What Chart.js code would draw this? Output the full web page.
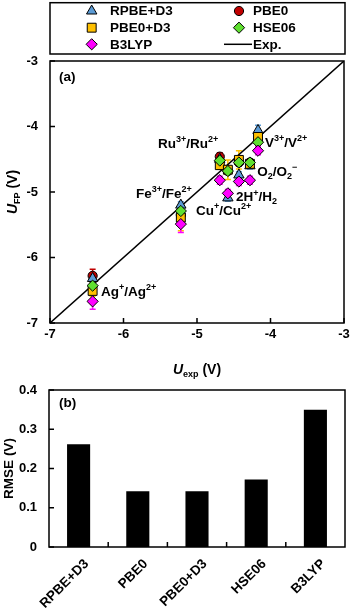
<!DOCTYPE html>
<html><head><meta charset="utf-8">
<script src="https://cdn.jsdelivr.net/npm/chart.js@4/dist/chart.umd.min.js"></script>
<style>
html,body{margin:0;padding:0;background:#fff;width:352px;height:610px;overflow:hidden;}
#c1{position:absolute;left:0;top:0;}
#c2{position:absolute;left:0;top:380px;}
</style></head><body>
<canvas id="c1" width="352" height="380"></canvas>
<canvas id="c2" width="352" height="230"></canvas>
<script>
// ---------------- data ----------------
const couples = ['Ag^{+}/Ag^{2+}','Fe^{3+}/Fe^{2+}','Ru^{3+}/Ru^{2+}','Cu^{+}/Cu^{2+}','2H^{+}/H_{2}','O_{2}/O_{2}^{\u2212}','V^{3+}/V^{2+}'];
const uExp     = [-6.42, -5.22, -4.69, -4.58, -4.43, -4.28, -4.17];
const methods  = ['RPBE+D3','PBE0','PBE0+D3','HSE06','B3LYP'];
const uRPBED3  = [-6.32, -5.20, -4.50, -5.09, -4.74, -4.60, -4.06];
const uPBE0    = [-6.28, -5.35, -4.46, -4.68, -4.55, -4.55, -4.19];
const uPBE0D3  = [-6.51, -5.39, -4.59, -4.66, -4.51, -4.57, -4.16];
const uHSE06   = [-6.43, -5.29, -4.52, -4.68, -4.55, -4.55, -4.24];
const uB3LYP   = [-6.67, -5.49, -4.82, -5.02, -4.84, -4.82, -4.37];
const eRPBED3  = [0.05, 0.05, 0.05, 0.05, 0.05, 0.05, 0.08];
const ePBE0    = [0.10, 0.05, 0.06, 0.05, 0.05, 0.05, 0.05];
const ePBE0D3  = [0.08, 0.20, 0.06, 0.15, 0.14, 0.05, 0.08];
const eHSE06   = [0.05, 0.05, 0.05, 0.05, 0.05, 0.05, 0.05];
const eB3LYP   = [0.12, 0.13, 0.06, 0.06, 0.06, 0.06, 0.06];
const expLineX = [-7, -3];
const expLineY = [-7, -3];
const fpTicks  = [-7, -6, -5, -4, -3];
const rmse     = [0.262, 0.142, 0.142, 0.172, 0.350];
const rmseTicks= [0, 0.1, 0.2, 0.3, 0.4];

// ---------------- styles / layout ----------------
const FONT = '"Liberation Sans", Arial, sans-serif';
const seriesVals = [uRPBED3, uPBE0, uPBE0D3, uHSE06, uB3LYP];
const seriesErr  = [eRPBED3, ePBE0, ePBE0D3, eHSE06, eB3LYP];
const styles = [
  {color:'#5b9bd5', pt:'triangle', r:6,   order:3.5},
  {color:'#c00000', pt:'circle',   r:4.6, order:4},
  {color:'#ffc000', pt:'rect',     r:6.3, order:3},
  {color:'#5fe030', pt:'rectRot',  r:5.6, order:2},
  {color:'#ff00ff', pt:'rectRot',  r:5.6, order:1}
];
// annotation anchors (left edge, vertical middle) in data units
const labelPos = [[-6.306,-6.531],[-5.830,-5.031],[-5.531,-4.267],[-5.014,-5.290],[-4.469,-5.087],[-4.180,-4.699],[-4.075,-4.256]];

function parseRich(s){
  const out=[]; const re=/(\^|_|~)\{([^}]*)\}|([^^_~]+)/g; let m;
  while((m=re.exec(s))){
    if(m[3]) out.push({t:m[3],k:'n'});
    else out.push({t:m[2],k:m[1]==='^'?'sup':(m[1]==='_'?'sub':'it')});
  }
  return out;
}
function richFont(k,size){
  if(k==='sup'||k==='sub') return 'bold '+Math.round(size*0.66)+'px '+FONT;
  if(k==='it') return 'italic bold '+size+'px '+FONT;
  return 'bold '+size+'px '+FONT;
}
function richWidth(ctx,parts,size){
  let w=0; parts.forEach(p=>{ctx.font=richFont(p.k,size); w+=ctx.measureText(p.t).width;}); return w;
}
function drawRich(ctx,s,x,y,size,align){
  const parts=parseRich(s);
  let cx=x; if(align==='center') cx = x - richWidth(ctx,parts,size)/2;
  ctx.textBaseline='middle'; ctx.textAlign='left'; ctx.fillStyle='#000';
  parts.forEach(p=>{
    ctx.font=richFont(p.k,size);
    let dy=0; if(p.k==='sup') dy=-size*0.33; if(p.k==='sub') dy=size*0.3;
    ctx.fillText(p.t,cx,y+dy);
    cx+=ctx.measureText(p.t).width;
  });
}
function drawMarker(ctx,st,x,y){
  ctx.save();
  ctx.fillStyle=st.color; ctx.strokeStyle='#000'; ctx.lineWidth=1;
  if(Chart.helpers && Chart.helpers.drawPoint){
    Chart.helpers.drawPoint(ctx,{pointStyle:st.pt,radius:st.r,rotation:0,borderWidth:1},x,y);
  }
  ctx.restore();
}

const tickFont = {family:FONT, size:13, weight:'bold'};

// ---------------- chart (a) ----------------
const datasets = methods.map((m,i)=>({
  type:'scatter', label:m,
  data: uExp.map((x,j)=>({x:x, y:seriesVals[i][j]})),
  pointStyle: styles[i].pt, pointRadius: styles[i].r,
  backgroundColor: styles[i].color, borderColor:'#000', borderWidth:1,
  order: styles[i].order
}));
datasets.push({type:'line', label:'Exp.', data: expLineX.map((x,j)=>({x:x,y:expLineY[j]})),
  borderColor:'#000', borderWidth:1.5, pointRadius:0, order:10});

const pluginA = {
  id:'pa',
  beforeDatasetsDraw(chart){
    const ctx=chart.ctx, xs=chart.scales.x, ys=chart.scales.y;
    ctx.save(); ctx.lineWidth=1.5;
    seriesVals.forEach((vals,i)=>{
      ctx.strokeStyle=styles[i].color;
      vals.forEach((v,j)=>{
        const e=seriesErr[i][j]; const px=xs.getPixelForValue(uExp[j]);
        const y1=ys.getPixelForValue(v+e), y2=ys.getPixelForValue(v-e);
        ctx.beginPath();
        ctx.moveTo(px,y1); ctx.lineTo(px,y2);
        ctx.moveTo(px-3,y1); ctx.lineTo(px+3,y1);
        ctx.moveTo(px-3,y2); ctx.lineTo(px+3,y2);
        ctx.stroke();
      });
    });
    ctx.restore();
  },
  afterDraw(chart){
    const ctx=chart.ctx, a=chart.chartArea, xs=chart.scales.x, ys=chart.scales.y;
    ctx.save();
    // frame
    ctx.strokeStyle='#000'; ctx.lineWidth=1.5;
    ctx.strokeRect(a.left,a.top,a.right-a.left,a.bottom-a.top);
    // inward ticks
    ctx.beginPath();
    fpTicks.forEach(v=>{
      const px=xs.getPixelForValue(v); ctx.moveTo(px,a.bottom); ctx.lineTo(px,a.bottom-5);
      const py=ys.getPixelForValue(v); ctx.moveTo(a.left,py); ctx.lineTo(a.left+5,py);
    });
    ctx.stroke();
    // legend
    ctx.lineWidth=1.5;
    ctx.strokeRect(50,2.7,295,51.3);
    const rows=[11,27.7,44.3];
    const items=[[0,0,0],[1,1,0],[2,0,1],[3,1,1],[4,0,2]];
    items.forEach(([si,col,row])=>{
      const mx= col===0?91.7:239, tx= col===0?110:253;
      drawMarker(ctx,styles[si],mx,rows[row]);
      drawRich(ctx,methods[si],tx,rows[row]+0.5,13.5,'left');
    });
    ctx.strokeStyle='#000'; ctx.lineWidth=1.5;
    ctx.beginPath(); ctx.moveTo(224,rows[2]); ctx.lineTo(252,rows[2]); ctx.stroke();
    drawRich(ctx,'Exp.',253,rows[2]+0.5,13.5,'left');
    // panel label
    drawRich(ctx,'(a)',59,77,13.5,'left');
    // annotations
    couples.forEach((c,j)=>{
      drawRich(ctx,c,xs.getPixelForValue(labelPos[j][0]),ys.getPixelForValue(labelPos[j][1]),13.5,'left');
    });
    // axis titles
    drawRich(ctx,'~{U}_{exp} (V)',(a.left+a.right)/2,370,14,'center');
    ctx.save(); ctx.translate(13,(a.top+a.bottom)/2); ctx.rotate(-Math.PI/2);
    drawRich(ctx,'~{U}_{FP} (V)',0,0,14,'center');
    ctx.restore();
    ctx.restore();
  }
};

new Chart(document.getElementById('c1'),{
  type:'scatter',
  data:{datasets:datasets},
  options:{
    responsive:false, animation:false, events:[],
    layout:{padding:{left:0,right:8,top:61,bottom:0}},
    plugins:{legend:{display:false},tooltip:{enabled:false}},
    scales:{
      x:{type:'linear',min:-7,max:-3,
        afterBuildTicks(s){ s.ticks=fpTicks.map(v=>({value:v})); },
        ticks:{font:tickFont,color:'#000',padding:4,autoSkip:false,maxRotation:0,callback:v=>String(v)},
        grid:{display:false,drawTicks:false}, border:{display:false},
        afterFit(s){ s.height=57; s.paddingLeft=0; s.paddingRight=0; }},
      y:{type:'linear',min:-7,max:-3,
        afterBuildTicks(s){ s.ticks=fpTicks.map(v=>({value:v})); },
        ticks:{font:tickFont,color:'#000',padding:12,autoSkip:false,callback:v=>String(v)},
        grid:{display:false,drawTicks:false}, border:{display:false},
        afterFit(s){ s.width=50; s.paddingTop=0; s.paddingBottom=0; }}
    }
  },
  plugins:[pluginA]
});

// ---------------- chart (b) ----------------
const pluginB = {
  id:'pb',
  afterDraw(chart){
    const ctx=chart.ctx, a=chart.chartArea, ys=chart.scales.y;
    ctx.save();
    ctx.strokeStyle='#000'; ctx.lineWidth=1.5;
    ctx.strokeRect(a.left,a.top,a.right-a.left,a.bottom-a.top);
    ctx.beginPath();
    rmseTicks.forEach(v=>{ const py=ys.getPixelForValue(v); ctx.moveTo(a.left,py); ctx.lineTo(a.left+5,py); });
    const n=methods.length, w=(a.right-a.left)/n;
    for(let i=1;i<n;i++){ const px=a.left+i*w; ctx.moveTo(px,a.bottom); ctx.lineTo(px,a.bottom-5); }
    ctx.stroke();
    drawRich(ctx,'(b)',59,23,13.5,'left');
    ctx.save(); ctx.translate(9,(a.top+a.bottom)/2); ctx.rotate(-Math.PI/2);
    drawRich(ctx,'RMSE (V)',0,0,13.5,'center');
    ctx.restore();
    ctx.restore();
  }
};

new Chart(document.getElementById('c2'),{
  type:'bar',
  data:{labels:methods, datasets:[{data:rmse, backgroundColor:'#000', borderWidth:0, barPercentage:0.39, categoryPercentage:1}]},
  options:{
    responsive:false, animation:false, events:[],
    layout:{padding:{left:0,right:7,top:10,bottom:0}},
    plugins:{legend:{display:false},tooltip:{enabled:false}},
    scales:{
      x:{grid:{display:false,drawTicks:false}, border:{display:false},
        ticks:{font:{family:FONT,size:13.5,weight:'bold'},color:'#000',minRotation:45,maxRotation:45,padding:9,autoSkip:false,labelOffset:8},
        afterFit(s){ s.height=63; s.paddingLeft=0; s.paddingRight=0; }},
      y:{min:0,max:0.4,
        afterBuildTicks(s){ s.ticks=rmseTicks.map(v=>({value:v})); },
        ticks:{font:tickFont,color:'#000',padding:12,callback:v=>String(v)},
        grid:{display:false,drawTicks:false}, border:{display:false},
        afterFit(s){ s.width=49; s.paddingTop=0; s.paddingBottom=0; }}
    }
  },
  plugins:[pluginB]
});
</script>
</body></html>
